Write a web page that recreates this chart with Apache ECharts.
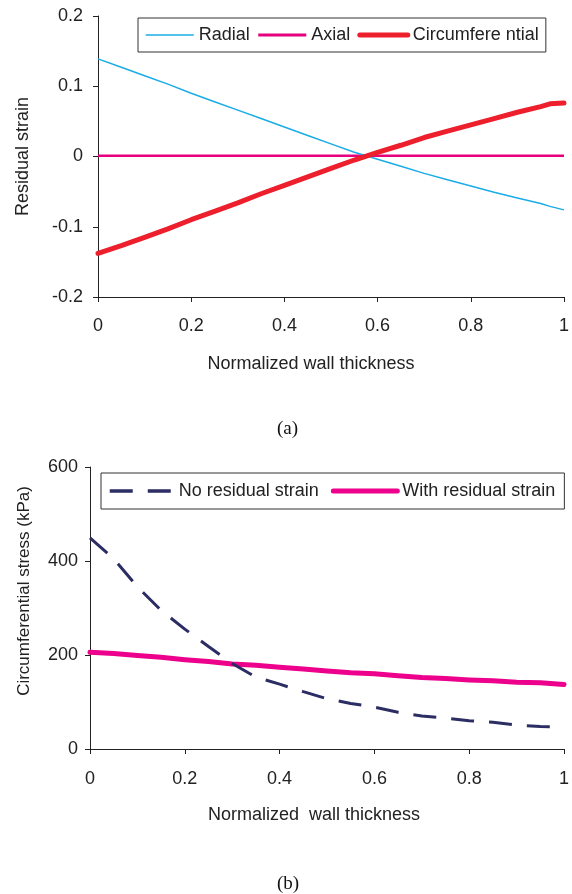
<!DOCTYPE html>
<html>
<head>
<meta charset="utf-8">
<script src="https://cdn.jsdelivr.net/npm/echarts@6/dist/echarts.min.js"></script>
<style>
html,body{margin:0;padding:0;background:#fff;}
#chart{width:572px;height:894px;}
</style>
</head>
<body>
<div id="chart"></div>
<script>
// Panel (a): residual strain vs normalized wall thickness
var xA = [0,0.05,0.1,0.15,0.2,0.25,0.3,0.35,0.4,0.45,0.5,0.55,0.6,0.65,0.7,0.75,0.8,0.85,0.9,0.95,0.97,1];
var radial = [0.139,0.127,0.115,0.103,0.090,0.078,0.066,0.054,0.042,0.030,0.018,0.006,-0.004,-0.014,-0.024,-0.033,-0.042,-0.051,-0.059,-0.067,-0.071,-0.076];
var axial = [0.001,0.001,0.001,0.001,0.001,0.001,0.001,0.001,0.001,0.001,0.001,0.001,0.001,0.001,0.001,0.001,0.001,0.001,0.001,0.001,0.001,0.001];
var circumferential = [-0.138,-0.127,-0.115,-0.103,-0.090,-0.078,-0.066,-0.053,-0.041,-0.029,-0.017,-0.005,0.006,0.016,0.027,0.036,0.045,0.054,0.063,0.071,0.075,0.076];
// Panel (b): circumferential stress (kPa)
var xB = [0,0.05,0.1,0.15,0.2,0.25,0.3,0.35,0.4,0.45,0.5,0.55,0.6,0.65,0.7,0.75,0.8,0.85,0.9,0.95,1];
var noResidual = [449,405,345,295,255,218,182,153,138,122,107,97,89,78,70,66,60,57,51,48,47];
var withResidual = [206,203,199,195,190,186,181,178,174,170,166,162,160,156,152,150,147,145,142,141,137];
var xTicks = [0,0.2,0.4,0.6,0.8,1];

function pairs(xs, ys){ return xs.map(function(x,i){ return [x, ys[i]]; }); }

var FONT = '"Liberation Sans", Arial, sans-serif';
var TXT = '#222';

function xAxisCfg(gi, name, gap, pad, margin){
  return {
    type:'value', gridIndex:gi, min:0, max:1, interval:0.2,
    name:name, nameLocation:'middle', nameGap:gap,
    nameTextStyle:{fontFamily:FONT, fontSize:18, color:TXT, padding:pad},
    axisLine:{show:true, onZero:false, lineStyle:{color:'#222', width:1}},
    axisTick:{show:true, length:5, lineStyle:{color:'#222'}},
    axisLabel:{fontFamily:FONT, fontSize:18, color:TXT, margin:margin,
      formatter:function(v){ return String(Math.round(v*10)/10); }},
    splitLine:{show:false}
  };
}
function yAxisCfg(gi, name, gap, min, max, interval, pad, fs, margin, fmt){
  return {
    type:'value', gridIndex:gi, min:min, max:max, interval:interval,
    name:name, nameLocation:'middle', nameGap:gap,
    nameTextStyle:{fontFamily:FONT, fontSize:fs, color:TXT, padding:pad},
    axisLine:{show:true, onZero:false, lineStyle:{color:'#222', width:1}},
    axisTick:{show:true, length:5, lineStyle:{color:'#222'}},
    axisLabel:{fontFamily:FONT, fontSize:18, color:TXT, margin:margin, formatter:fmt},
    splitLine:{show:false}
  };
}

var chart = echarts.init(document.getElementById('chart'), null, {renderer:'canvas'});
chart.setOption({
  animation:false,
  backgroundColor:'#fff',
  grid:[
    {left:98, top:16, width:471, height:281},
    {left:90, top:467, width:479, height:282}
  ],
  xAxis:[
    xAxisCfg(0,'Normalized wall thickness',58,[0,40,0,0],20),
    xAxisCfg(1,'Normalized  wall thickness',57,[0,26,0,0],21)
  ],
  yAxis:[
    yAxisCfg(0,'Residual strain',66,-0.2,0.2,0.1,[0,0,0,0],18,15,function(v){ return String(Math.round(v*10)/10); }),
    yAxisCfg(1,'Circumferential stress (kPa)',57,0,600,200,[0,0,0,34],17,12,function(v){ return String(v); })
  ],
  legend:[
    {
      left:138, top:18, orient:'horizontal',
      padding:[8,7,8,7], itemGap:7, itemWidth:48, itemHeight:14,
      borderColor:'#333', borderWidth:1, backgroundColor:'#fff',
      itemStyle:{opacity:0},
      textStyle:{fontFamily:FONT, fontSize:18, color:TXT},
      data:[
        {name:'Radial', lineStyle:{width:1.5}},
        {name:'Axial', lineStyle:{width:3}},
        {name:'Circumfere ntial', lineStyle:{width:5}}
      ]
    },
    {
      left:101, top:473, orient:'horizontal',
      padding:[9,9,9,7], itemGap:12, itemWidth:64, itemHeight:14,
      borderColor:'#333', borderWidth:1, backgroundColor:'#fff',
      itemStyle:{opacity:0},
      textStyle:{fontFamily:FONT, fontSize:18, color:TXT},
      data:[
        {name:'No residual strain', lineStyle:{width:3.5}},
        {name:'With residual strain', lineStyle:{width:5}}
      ]
    }
  ],
  series:[
    {name:'Radial', type:'line', xAxisIndex:0, yAxisIndex:0, data:pairs(xA,radial),
      symbol:'none', z:3, lineStyle:{color:'#19ace6', width:1.5}, itemStyle:{color:'#19ace6'}},
    {name:'Axial', type:'line', xAxisIndex:0, yAxisIndex:0, data:pairs(xA,axial),
      symbol:'none', z:2, lineStyle:{color:'#e6007e', width:2.5}, itemStyle:{color:'#e6007e'}},
    {name:'Circumfere ntial', type:'line', xAxisIndex:0, yAxisIndex:0, data:pairs(xA,circumferential),
      symbol:'none', z:4, lineStyle:{color:'#ee1f2d', width:5, cap:'round', join:'round'}, itemStyle:{color:'#ee1f2d'}},
    {name:'No residual strain', type:'line', xAxisIndex:1, yAxisIndex:1, data:pairs(xB,noResidual),
      symbol:'none', z:3, lineStyle:{color:'#2b2d63', width:3, type:[23,15]}, itemStyle:{color:'#2b2d63'}},
    {name:'With residual strain', type:'line', xAxisIndex:1, yAxisIndex:1, data:pairs(xB,withResidual),
      symbol:'none', z:2, lineStyle:{color:'#ec008c', width:5, cap:'round', join:'round'}, itemStyle:{color:'#ec008c'}}
  ],
  graphic:[
    {type:'text', left:277, top:420, style:{text:'(a)', font:'19px "Liberation Serif", "Times New Roman", serif', fill:'#111'}},
    {type:'text', left:277, top:875, style:{text:'(b)', font:'19px "Liberation Serif", "Times New Roman", serif', fill:'#111'}}
  ]
});
</script>
</body>
</html>
